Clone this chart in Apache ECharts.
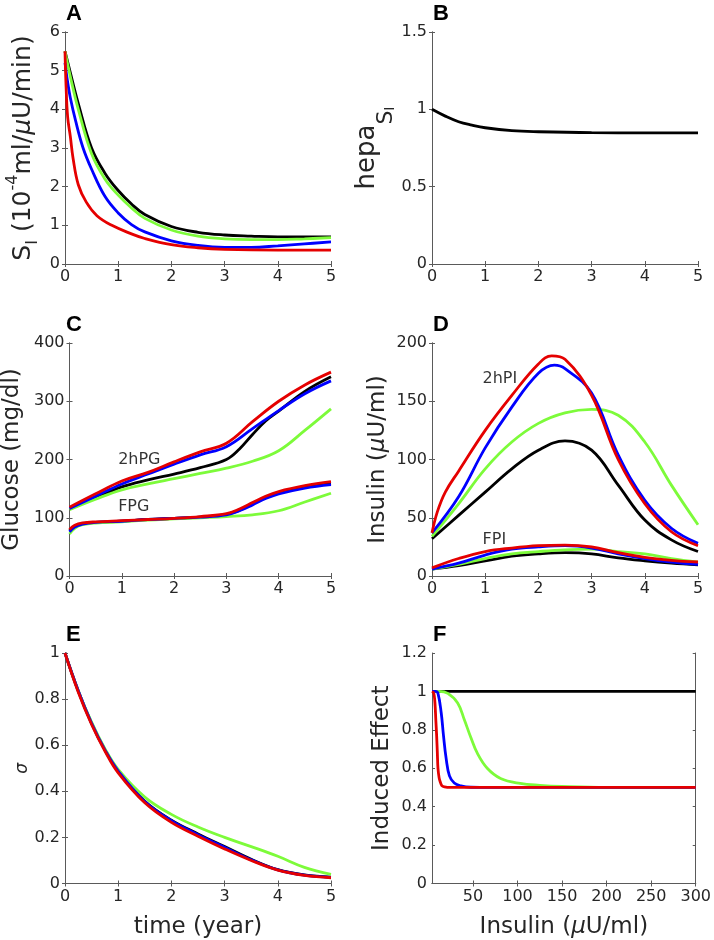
<!DOCTYPE html>
<html>
<head>
<meta charset="utf-8">
<script src="https://cdn.jsdelivr.net/npm/echarts@6.0.0/dist/echarts.min.js"></script>
<style>
  html, body { margin: 0; background: #fff; }
  #chart { width: 714px; height: 940px; }
</style>
</head>
<body>
<div id="chart"></div>
<script>
/* Six panels (A-F).
   Each series is a list of [x, y] pairs; colours follow the figure:
   black, green, blue, red (red drawn last, on top). */

// A: insulin sensitivity S_I over time (year)
const siBlack = [[0,5.5],[0.1,4.95],[0.25,4.15],[0.5,3.0],[0.75,2.35],[1,1.9],[1.25,1.55],[1.5,1.28],[2,0.97],[2.5,0.82],[3,0.75],[3.5,0.72],[4,0.7],[5,0.7]];
const siGreen = [[0,5.5],[0.1,4.85],[0.25,4.0],[0.5,2.85],[0.75,2.2],[1,1.78],[1.25,1.45],[1.5,1.18],[2,0.88],[2.5,0.72],[3,0.65],[3.5,0.63],[4,0.63],[4.5,0.65],[5,0.68]];
const siBlue  = [[0,5.2],[0.05,4.7],[0.1,4.3],[0.2,3.7],[0.34,3.0],[0.5,2.45],[0.75,1.75],[1,1.32],[1.25,1.02],[1.5,0.83],[2,0.6],[2.5,0.48],[3,0.43],[3.5,0.43],[4,0.47],[4.5,0.52],[5,0.57]];
const siRed   = [[0,5.5],[0.02,4.6],[0.05,3.8],[0.1,3.3],[0.15,2.75],[0.25,2.05],[0.4,1.6],[0.6,1.25],[0.88,1.0],[1.25,0.78],[1.5,0.66],[2,0.5],[2.5,0.42],[3,0.38],[4,0.36],[5,0.36]];

// B: hepatic factor
const hepaBlack = [[0,1.0],[0.25,0.956],[0.5,0.92],[0.75,0.898],[1,0.881],[1.5,0.862],[2,0.855],[3,0.849],[4,0.848],[5,0.848]];

// C: glucose (mg/dl), 2hPG and FPG
const pg2hBlack = [[0,115],[0.5,134],[1,153],[1.5,165],[2,175],[2.5,186],[3,200],[3.25,218],[3.5,243],[3.75,266],[4,283],[4.5,317],[5,342]];
const pg2hGreen = [[0,114],[0.5,132],[1,148],[1.5,158],[2,167],[2.5,176],[3,185],[3.5,197],[4,215],[4.5,250],[5,287]];
const pg2hBlue  = [[0,116],[0.5,137],[1,158],[1.5,175],[2,192],[2.5,208],[3,222],[3.5,253],[4,284],[4.5,313],[5,335]];
const pg2hRed   = [[0,118],[0.5,141],[1,163],[1.5,178],[2,196],[2.5,213],[3,228],[3.5,265],[4,300],[4.5,328],[5,350]];
const fpgBlack  = [[0,78],[0.1,85],[0.25,90],[0.5,92],[1,94],[1.5,97],[2,99],[2.5,101],[3,106],[3.25,113],[3.5,124],[3.75,135],[4,143],[4.5,153],[5,159]];
const fpgGreen  = [[0,72],[0.1,82],[0.25,88],[0.5,91],[1,93],[1.5,96],[2,98],[2.5,100],[3,102],[3.5,105],[4,112],[4.5,127],[5,142]];
const fpgBlue   = [[0,76],[0.1,84],[0.25,89],[0.5,92],[1,94],[1.5,97],[2,99],[2.5,101],[3,105],[3.25,112],[3.5,122],[3.75,133],[4,141],[4.5,151],[5,157]];
const fpgRed    = [[0,80],[0.1,87],[0.25,91],[0.5,93],[1,95],[1.5,97],[2,99],[2.5,102],[3,107],[3.25,115],[3.5,126],[3.75,137],[4,145],[4.5,155],[5,162]];

// D: insulin (uU/ml), 2hPI and FPI
const pi2hBlack = [[0,32],[0.5,52],[1,72],[1.5,92],[2,108],[2.5,116],[3,108],[3.5,78],[4,48],[4.5,31],[5,21]];
const pi2hGreen = [[0,34],[0.5,62],[1,92],[1.5,115],[2,131],[2.5,140],[3,143],[3.5,138],[4,115],[4.5,78],[5,44]];
const pi2hBlue  = [[0,37],[0.5,68],[1,110],[1.5,145],[2,174],[2.3,181],[2.5,178],[3,157],[3.5,104],[4,65],[4.5,41],[5,28]];
const pi2hRed   = [[0,37],[0.1,55],[0.25,72],[0.5,90],[1,125],[1.5,155],[2,182],[2.25,189],[2.5,186],[3,155],[3.5,100],[4,62],[4.5,38],[5,26]];
const fpiBlack  = [[0,6],[0.5,9],[1,13],[1.5,17],[2,19],[2.5,20],[3,19],[3.5,15.5],[4,13],[4.5,11],[5,9.5]];
const fpiGreen  = [[0,6],[0.5,10],[1,15],[1.5,19],[2,21],[2.5,22.5],[3,23],[3.5,21],[4,19],[4.5,15],[5,12]];
const fpiBlue   = [[0,6],[0.5,11],[1,18],[1.5,23],[2,25],[2.5,26],[3,24],[3.5,19],[4,15],[4.5,12],[5,10]];
const fpiRed    = [[0,7],[0.5,15],[1,21],[1.5,24],[2,26],[2.5,26.5],[3,25],[3.5,20],[4,16],[4.5,13.5],[5,12]];

// E: sigma over time
const sigBlack = [[0,1],[0.25,0.835],[0.5,0.695],[0.75,0.58],[1,0.487],[1.5,0.357],[2,0.275],[2.5,0.215],[3,0.16],[3.5,0.105],[4,0.06],[4.5,0.037],[5,0.028]];
const sigGreen = [[0,1],[0.25,0.835],[0.5,0.7],[0.75,0.585],[1,0.495],[1.5,0.375],[2,0.3],[2.5,0.245],[3,0.2],[3.5,0.16],[4,0.118],[4.5,0.07],[5,0.04]];
const sigBlue  = [[0,1],[0.25,0.835],[0.5,0.695],[0.75,0.58],[1,0.488],[1.5,0.356],[2,0.273],[2.5,0.212],[3,0.157],[3.5,0.103],[4,0.059],[4.5,0.036],[5,0.027]];
const sigRed   = [[0,1],[0.25,0.83],[0.5,0.69],[0.75,0.575],[1,0.48],[1.5,0.35],[2,0.265],[2.5,0.205],[3,0.15],[3.5,0.1],[4,0.058],[4.5,0.035],[5,0.025]];

// F: induced effect vs insulin (uU/ml)
const effBlack = [[4,1],[300,1]];
const effGreen = [[4,1],[12,1],[21.7,0.99],[32.8,0.94],[40.2,0.854],[47.6,0.76],[55,0.677],[66,0.6],[81,0.547],[103,0.521],[125,0.511],[150,0.505],[200,0.5],[250,0.5],[300,0.5]];
const effBlue  = [[4,1],[8,1],[10.7,0.99],[14.3,0.89],[16.9,0.77],[19.9,0.65],[23.6,0.56],[29,0.523],[36.5,0.508],[47.6,0.501],[70,0.5],[120,0.5],[200,0.5],[300,0.5]];
const effRed   = [[4,1],[6,0.99],[7.3,0.94],[8.3,0.85],[9.2,0.77],[10,0.68],[10.7,0.6],[12,0.55],[13.2,0.53],[15,0.51],[18,0.503],[25,0.5],[40,0.5],[80,0.5],[150,0.5],[300,0.5]];

const insulinTicks = [50, 100, 150, 200, 250, 300];

const BLACK = "#000000", GREEN = "#7dfb3a", BLUE = "#0000ff", RED = "#e50000";
const FONT = "DejaVu Sans";
const AXIS = "#5a5a5a", LABEL = "#262626";

const panels = [
  { tag: "A", left: 65, top: 32, height: 232, x: [0, 5, 1], y: [0, 6, 1], yGap: 24,
    yName: "{ma|S}{sa|I}{ma| (10}{pa|-4}{ma|ml/}{ia|μ}{ma|U/min)}",
    lines: [siBlack, siGreen, siBlue, siRed] },
  { tag: "B", left: 432, top: 32, height: 232, x: [0, 5, 1], y: [0, 1.5, 0.5], yGap: 35,
    yName: "{mb|hepa}{sb|S}{ssb|I}",
    lines: [hepaBlack], colors: [BLACK] },
  { tag: "C", left: 65, top: 343, height: 233, x: [0, 5, 1], y: [0, 400, 100], yGap: 40,
    yName: "{m|Glucose (mg/dl)}",
    lines: [pg2hBlack, pg2hGreen, pg2hBlue, pg2hRed, fpgBlack, fpgGreen, fpgBlue, fpgRed],
    notes: [["2hPG", 0.93, 199], ["FPG", 0.93, 118]] },
  { tag: "D", left: 432, top: 343, height: 233, x: [0, 5, 1], y: [0, 200, 50], yGap: 37,
    yName: "{m|Insulin (}{i|μ}{m|U/ml)}",
    lines: [pi2hBlack, pi2hGreen, pi2hBlue, pi2hRed, fpiBlack, fpiGreen, fpiBlue, fpiRed],
    notes: [["2hPI", 0.95, 169], ["FPI", 0.95, 31]] },
  { tag: "E", left: 65, top: 653, height: 233, x: [0, 5, 1], y: [0, 1, 0.2], yGap: 34,
    yName: "{g|σ}", xName: "{m|time (year)}",
    lines: [sigBlack, sigGreen, sigBlue, sigRed] },
  { tag: "F", left: 432, top: 653, height: 233, x: [4, 300, null], y: [0, 1.2, 0.2], yGap: 33,
    yName: "{m|Induced Effect}", xName: "{m|Insulin (}{i|μ}{m|U/ml)}",
    lines: [effBlack, effGreen, effBlue, effRed] },
];

const base = { fontFamily: FONT, color: LABEL };
const rich = {
  m:   { ...base, fontSize: 23, lineHeight: 34, verticalAlign: "middle" },
  i:   { ...base, fontSize: 23, fontStyle: "italic", lineHeight: 34, verticalAlign: "middle" },
  ma:  { ...base, fontSize: 25, lineHeight: 36, verticalAlign: "middle" },
  ia:  { ...base, fontSize: 25, fontStyle: "italic", lineHeight: 36, verticalAlign: "middle" },
  sa:  { ...base, fontSize: 16, lineHeight: 13, verticalAlign: "bottom" },
  pa:  { ...base, fontSize: 16, lineHeight: 16, verticalAlign: "top" },
  mb:  { ...base, fontSize: 26, lineHeight: 60, verticalAlign: "middle" },
  sb:  { ...base, fontSize: 22, lineHeight: 27, verticalAlign: "bottom" },
  ssb: { ...base, fontSize: 14, lineHeight: 9, verticalAlign: "bottom" },
  g:   { ...base, fontSize: 17, fontStyle: "italic", lineHeight: 17 },
};

const line = { show: true, lineStyle: { color: AXIS, width: 1 } };
const tick = { show: true, inside: true, length: 3, lineStyle: { color: AXIS } };
const label = { color: LABEL, fontSize: 16, fontFamily: FONT, margin: 5 };

const option = {
  animation: false,
  backgroundColor: "#fff",
  grid: [], xAxis: [], yAxis: [], series: [], graphic: [],
};

panels.forEach((p, i) => {
  option.grid.push({ left: p.left, top: p.top, width: 266, height: p.height });
  const [xmin, xmax, xstep] = p.x;
  const [ymin, ymax, ystep] = p.y;
  const xBase = { type: "value", gridIndex: i, min: xmin, max: xmax, splitLine: { show: false },
                  axisLine: line };
  if (xstep) xBase.interval = xstep;
  const xCustom = xstep ? {} : { customValues: insulinTicks };
  option.xAxis.push({
    ...xBase, position: "bottom",
    axisTick: { ...tick, ...xCustom },
    axisLabel: { ...label, ...xCustom },
    name: p.xName || "", nameLocation: "middle", nameGap: 27,
    nameTextStyle: { rich },
  });
  option.xAxis.push({
    ...xBase, position: "top",
    axisTick: { ...tick, ...xCustom }, axisLabel: { show: false },
  });
  const yBase = { type: "value", gridIndex: i, min: ymin, max: ymax, interval: ystep,
                  splitLine: { show: false }, axisLine: line };
  option.yAxis.push({
    ...yBase, position: "left", axisTick: tick, axisLabel: label,
    name: p.yName, nameLocation: "middle", nameRotate: 90, nameGap: p.yGap,
    nameTextStyle: { rich },
  });
  option.yAxis.push({ ...yBase, position: "right", axisTick: tick, axisLabel: { show: false } });

  const colors = p.colors || [BLACK, GREEN, BLUE, RED];
  p.lines.forEach((data, k) => {
    option.series.push({
      type: "line", xAxisIndex: 2 * i, yAxisIndex: 2 * i, data,
      showSymbol: false, smooth: 0.4, z: 2 + (k % 4),
      lineStyle: { width: 2.8, color: colors[k % colors.length] },
    });
  });
  if (p.notes) {
    option.series.push({
      type: "scatter", xAxisIndex: 2 * i, yAxisIndex: 2 * i, symbolSize: 0, z: 10,
      data: p.notes.map(([txt, x, y]) => ({ value: [x, y], name: txt })),
      label: { show: true, position: "right", distance: 0, formatter: "{b}",
               color: "#000", fontSize: 16, fontFamily: FONT },
    });
  }
  option.graphic.push({
    type: "text", left: p.left + 1, top: p.top - 29,
    style: { text: p.tag, font: 'bold 22px "Liberation Sans"', fill: "#000" },
  });
});

const chart = echarts.init(document.getElementById("chart"), null, { renderer: "canvas" });
chart.setOption(option);
</script>
</body>
</html>
